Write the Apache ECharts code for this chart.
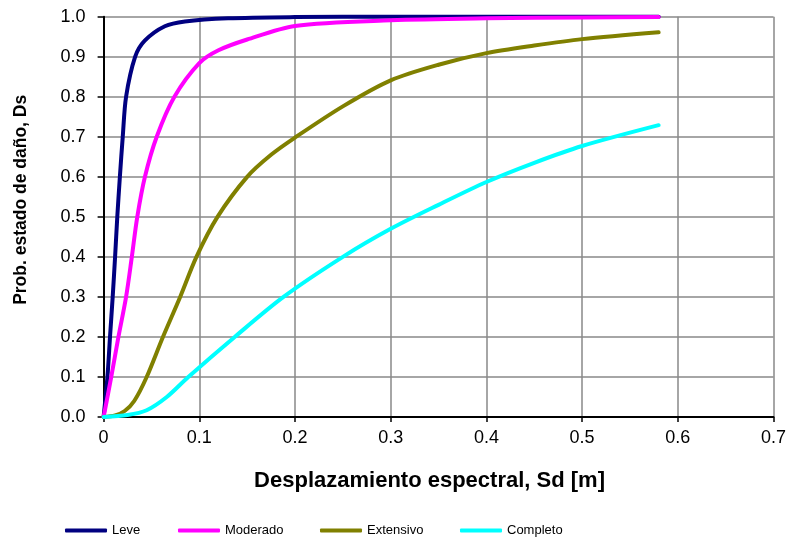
<!DOCTYPE html>
<html>
<head>
<meta charset="utf-8">
<script src="https://cdn.jsdelivr.net/npm/echarts@6/dist/echarts.min.js"></script>
<style>html,body{margin:0;padding:0;background:#fff;}#c{width:792px;height:542px;}</style>
</head>
<body>
<div id="c"></div>
<script>
var seriesNames = ['Leve', 'Moderado', 'Extensivo', 'Completo'];
var xTickLabels = ['0', '0.1', '0.2', '0.3', '0.4', '0.5', '0.6', '0.7'];
var yTickLabels = ['0.0', '0.1', '0.2', '0.3', '0.4', '0.5', '0.6', '0.7', '0.8', '0.9', '1.0'];

var leve = [[0,0],[0.004,0.1],[0.0067,0.2],[0.0095,0.3],[0.012,0.4],[0.0143,0.5],[0.017,0.6],[0.02,0.7],[0.0235,0.8],[0.033,0.9],[0.043,0.94],[0.064,0.976],[0.085,0.988],[0.13,0.996],[0.2,0.999],[0.3,1.0],[0.58,1.0]];
var moderado = [[0,0],[0.008,0.1],[0.0155,0.2],[0.0235,0.3],[0.0295,0.4],[0.0352,0.5],[0.0432,0.6],[0.0555,0.7],[0.074,0.8],[0.1,0.884],[0.12,0.916],[0.15,0.943],[0.2,0.977],[0.3,0.991],[0.4,0.996],[0.5,0.998],[0.58,0.999]];
var extensivo = [[0,0],[0.012,0.004],[0.022,0.015],[0.032,0.04],[0.045,0.1],[0.062,0.2],[0.08,0.3],[0.097,0.4],[0.119,0.5],[0.15,0.6],[0.175,0.655],[0.2,0.698],[0.25,0.776],[0.3,0.841],[0.35,0.88],[0.4,0.909],[0.45,0.928],[0.5,0.944],[0.58,0.961]];
var completo = [[0,0],[0.025,0.005],[0.045,0.017],[0.066,0.05],[0.0885,0.1],[0.137,0.2],[0.188,0.3],[0.25,0.4],[0.3,0.47],[0.35,0.53],[0.4,0.587],[0.45,0.635],[0.5,0.677],[0.58,0.729]];

var colors = ['#000080', '#FF00FF', '#808000', '#00FFFF'];
var allData = [leve, moderado, extensivo, completo];
var legendLefts = [60, 173, 315, 455];

var font = 'Liberation Sans, Arial, sans-serif';
var chart = echarts.init(document.getElementById('c'));

var legends = seriesNames.map(function (n, i) {
  return {
    data: [n], left: legendLefts[i], top: 519, orient: 'horizontal',
    icon: 'roundRect', itemWidth: 42, itemHeight: 4, itemGap: 5,
    textStyle: { fontFamily: font, fontSize: 13, color: '#000' }
  };
});

chart.setOption({
  animation: false,
  backgroundColor: '#fff',
  grid: { left: 103.6, right: 18.5, top: 16.7, bottom: 125, containLabel: false },
  legend: legends,
  xAxis: {
    type: 'value', min: 0, max: 0.7, interval: 0.1,
    name: 'Desplazamiento espectral, Sd [m]', nameLocation: 'middle', nameGap: 53,
    nameTextStyle: { fontFamily: font, fontSize: 22, fontWeight: 'bold', color: '#000', padding: [0, 18, 0, 0] },
    axisLine: { show: true, onZero: false, lineStyle: { color: '#000', width: 2 } },
    axisTick: { show: true, length: 5, lineStyle: { color: '#000', width: 1.5 } },
    axisLabel: { margin: 12, fontFamily: font, fontSize: 18, color: '#000',
      formatter: function (v) { return xTickLabels[Math.round(v * 10)]; } },
    splitLine: { show: true, lineStyle: { color: '#888', width: 1.5 } }
  },
  yAxis: {
    type: 'value', min: 0, max: 1, interval: 0.1,
    name: 'Prob. estado de daño, Ds', nameLocation: 'middle', nameGap: 73,
    nameTextStyle: { fontFamily: font, fontSize: 17.5, fontWeight: 'bold', color: '#000', padding: [0, 0, 0, 34] },
    axisLine: { show: true, onZero: false, lineStyle: { color: '#000', width: 2 } },
    axisTick: { show: true, length: 6, lineStyle: { color: '#000', width: 1.5 } },
    axisLabel: { margin: 18, fontFamily: font, fontSize: 18, color: '#000',
      formatter: function (v) { return yTickLabels[Math.round(v * 10)]; } },
    splitLine: { show: true, lineStyle: { color: '#888', width: 1.5 } }
  },
  series: seriesNames.map(function (n, i) {
    return {
      name: n, type: 'line', data: allData[i], showSymbol: false, symbol: 'none',
      smooth: 0.3, clip: false,
      itemStyle: { color: colors[i] },
      lineStyle: { color: colors[i], width: 4, cap: 'round', join: 'round' }
    };
  })
});
</script>
</body>
</html>
